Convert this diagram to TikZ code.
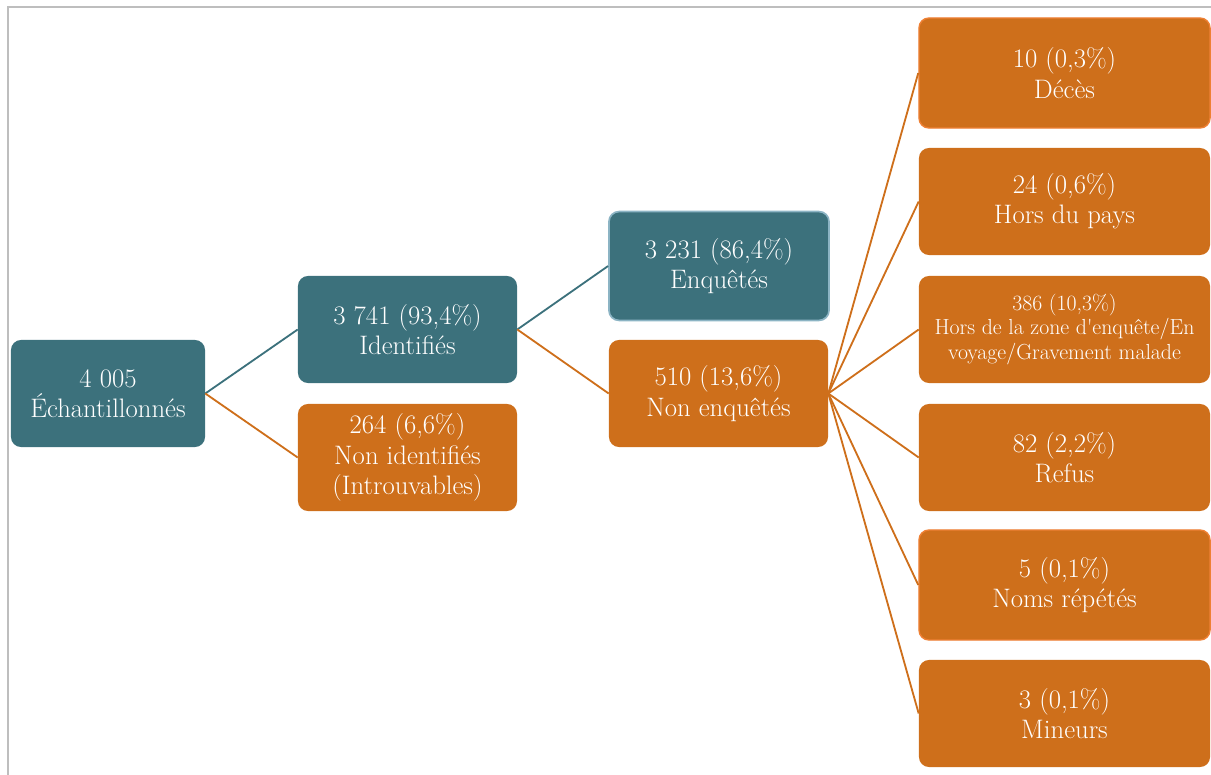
\documentclass[tikz,border=0pt]{standalone}
\usepackage{tikz}
\usetikzlibrary{positioning}

\definecolor{tealbox}{RGB}{60,113,124}
\definecolor{orangebox}{RGB}{206,111,27}
\definecolor{tealrim}{RGB}{140,180,196}
\definecolor{orangerim}{RGB}{238,128,52}
\definecolor{framegray}{RGB}{190,190,190}

\begin{document}
\begin{tikzpicture}[x=0.025cm, y=-0.025cm,
        box/.style={rounded corners=0.25cm, align=center, text=white, inner sep=1pt,
            font=\fontsize{19}{21.5}\selectfont, minimum height=2.675cm},
        tbox/.style={box, fill=tealbox},
        obox/.style={box, fill=orangebox},
        rbox/.style={obox, minimum width=7.275cm},
        tline/.style={draw=tealbox, line width=1.3pt},
        oline/.style={draw=orangebox, line width=1.3pt}]
                \useasboundingbox (0, 0) rectangle (1211, 775);
                \draw[framegray, line width=1pt](8, 775)--(8, 7)--(1211, 7);

                % first levels
                \node[tbox, minimum width=4.85cm](ech) at (108, 393.5){4 005\\Échantillonnés};
                \node[tbox, minimum width=5.475cm](ident) at (407.5, 329.5){3 741 (93,4\%)\\Identifiés};
                \node[obox, minimum width=5.475cm](nonid) at (407.5, 457.5){264 (6,6\%)\\Non identifiés\\(Introuvables)};
                \node[tbox, draw=tealrim, line width=1.2pt, minimum width=5.5cm, minimum height=2.72cm](enq) at (719, 266){3 231 (86,4\%)\\Enquêtés};
                \node[obox, minimum width=5.475cm](nonenq) at (718.5, 393.5){510 (13,6\%)\\Non enquêtés};

                % reasons
                \node[rbox, draw=orangerim, line width=1pt, minimum height=2.75cm](deces) at (1064.5, 73){10 (0,3\%)\\Décès};
                \node[rbox](pays) at (1064.5, 201.5){24 (0,6\%)\\Hors du pays};
                \node[rbox, font=\fontsize{15.5}{17.5}\selectfont](zone) at (1064.5, 329.5){386 (10,3\%)\\Hors de la zone d\textquotesingle enquête/En\\voyage/Gravement malade};
                \node[rbox](refus) at (1064.5, 457.5){82 (2,2\%)\\Refus};
                \node[rbox, draw=orangerim, line width=1pt, minimum height=2.75cm](noms) at (1064.5, 585){5 (0,1\%)\\Noms répétés};
                \node[rbox](mineurs) at (1064.5, 713.5){3 (0,1\%)\\Mineurs};

                \draw[tline](ech.east)--(ident.west);
                \draw[oline](ech.east)--(nonid.west);
                \draw[tline](ident.east)--(enq.west);
                \draw[oline](ident.east)--(nonenq.west);
                \foreach \r in {deces, pays, zone, refus, noms, mineurs}
                    \draw[oline](nonenq.east)--(\r.west);
            \end{tikzpicture}
\end{document}
